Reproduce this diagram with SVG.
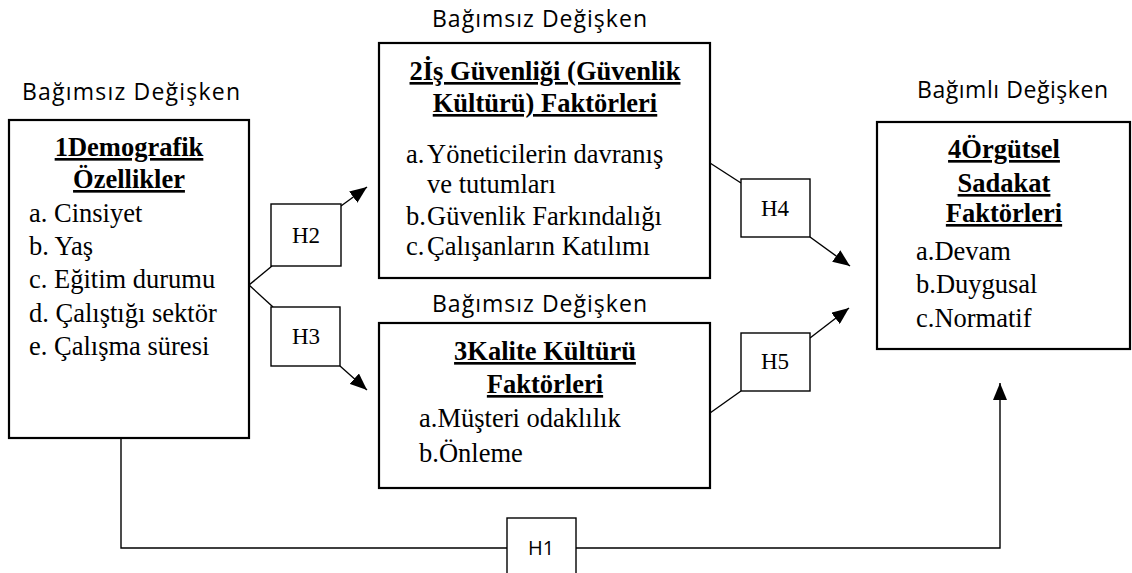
<svg xmlns="http://www.w3.org/2000/svg" width="1132" height="573" viewBox="0 0 1132 573">
<style>
.box{fill:#fff;stroke:#000;stroke-width:2.2}
.hbox{fill:#fff;stroke:#000;stroke-width:1.4}
.ln{fill:none;stroke:#000;stroke-width:1.4}
.lab{font-family:"Open Sans","DejaVu Sans",sans-serif;font-size:23px;fill:#000}
.t{font-family:"Liberation Serif","Times New Roman",serif;font-size:26.5px;fill:#000}
.tb{font-family:"Liberation Serif","Times New Roman",serif;font-size:26.5px;font-weight:bold;text-decoration:underline;fill:#000}
.h{font-family:"Liberation Serif","Times New Roman",serif;font-size:23px;fill:#000}
.h1{font-family:"Open Sans","DejaVu Sans",sans-serif;font-size:20px;fill:#000}
</style>
<defs>
<marker id="arr" markerUnits="userSpaceOnUse" markerWidth="17" markerHeight="14" refX="17" refY="7" orient="auto">
<path d="M0,0 L17,7 L0,14 z" fill="#000"/>
</marker>
</defs>
<rect width="1132" height="573" fill="#fff"/>

<g id="connectors">
<path class="ln" d="M249,285 L272,266"/>
<path class="ln" d="M249,285 L273,307"/>
<path class="ln" d="M341,206 L367,187" marker-end="url(#arr)"/>
<path class="ln" d="M340,366 L367,390" marker-end="url(#arr)"/>
<path class="ln" d="M710,163 L741,183"/>
<path class="ln" d="M810,237 L850,266" marker-end="url(#arr)"/>
<path class="ln" d="M710,413 L741,391"/>
<path class="ln" d="M810,338 L849,308" marker-end="url(#arr)"/>
<path class="ln" d="M121,438 L121,548 L507,548"/>
<path class="ln" d="M576,548 L1000,548 L1000,383" marker-end="url(#arr)"/>
</g>

<g id="node1">
<text class="lab" x="22" y="100" textLength="218" lengthAdjust="spacing">Bağımsız Değişken</text>
<rect class="box" x="9" y="120" width="240" height="318"/>
<text class="tb" x="129" y="156" text-anchor="middle">1Demografik</text>
<text class="tb" x="129" y="188" text-anchor="middle">Özellikler</text>
<text class="t" x="29" y="222">a. Cinsiyet</text>
<text class="t" x="29" y="255">b. Yaş</text>
<text class="t" x="29" y="288">c. Eğitim durumu</text>
<text class="t" x="29" y="322">d. Çalıştığı sektör</text>
<text class="t" x="29" y="355">e. Çalışma süresi</text>
</g>

<g id="node2">
<text class="lab" x="432" y="27" textLength="215" lengthAdjust="spacing">Bağımsız Değişken</text>
<rect class="box" x="379" y="43" width="331" height="235"/>
<text class="tb" x="545" y="80" text-anchor="middle">2İş Güvenliği (Güvenlik</text>
<text class="tb" x="545" y="112" text-anchor="middle">Kültürü) Faktörleri</text>
<text class="t" x="406" y="163">a.</text>
<text class="t" x="427" y="163">Yöneticilerin davranış</text>
<text class="t" x="427" y="193">ve tutumları</text>
<text class="t" x="406" y="225">b.</text>
<text class="t" x="427" y="225">Güvenlik Farkındalığı</text>
<text class="t" x="406" y="255">c.</text>
<text class="t" x="427" y="255">Çalışanların Katılımı</text>
</g>

<g id="node3">
<text class="lab" x="432" y="312" textLength="215" lengthAdjust="spacing">Bağımsız Değişken</text>
<rect class="box" x="379" y="323" width="331" height="165"/>
<text class="tb" x="545" y="360" text-anchor="middle">3Kalite Kültürü</text>
<text class="tb" x="545" y="393" text-anchor="middle">Faktörleri</text>
<text class="t" x="419" y="427">a.Müşteri odaklılık</text>
<text class="t" x="419" y="462">b.Önleme</text>
</g>

<g id="node4">
<text class="lab" x="917" y="98" textLength="191" lengthAdjust="spacing">Bağımlı Değişken</text>
<rect class="box" x="877" y="122" width="253" height="227"/>
<text class="tb" x="1004" y="158" text-anchor="middle">4Örgütsel</text>
<text class="tb" x="1004" y="192" text-anchor="middle">Sadakat</text>
<text class="tb" x="1004" y="222" text-anchor="middle">Faktörleri</text>
<text class="t" x="916" y="260">a.Devam</text>
<text class="t" x="916" y="293">b.Duygusal</text>
<text class="t" x="916" y="327">c.Normatif</text>
</g>

<g id="H2">
<rect class="hbox" x="271" y="204" width="70" height="62"/>
<text class="h" x="306" y="243" text-anchor="middle">H2</text>
</g>
<g id="H3">
<rect class="hbox" x="271" y="307" width="69" height="59"/>
<text class="h" x="306" y="344" text-anchor="middle">H3</text>
</g>
<g id="H4">
<rect class="hbox" x="741" y="179" width="69" height="58"/>
<text class="h" x="775" y="216" text-anchor="middle">H4</text>
</g>
<g id="H5">
<rect class="hbox" x="741" y="333" width="69" height="58"/>
<text class="h" x="775" y="369" text-anchor="middle">H5</text>
</g>
<g id="H1">
<rect class="hbox" x="507" y="518" width="69" height="70"/>
<text class="h1" x="541" y="555" text-anchor="middle">H1</text>
</g>
</svg>
